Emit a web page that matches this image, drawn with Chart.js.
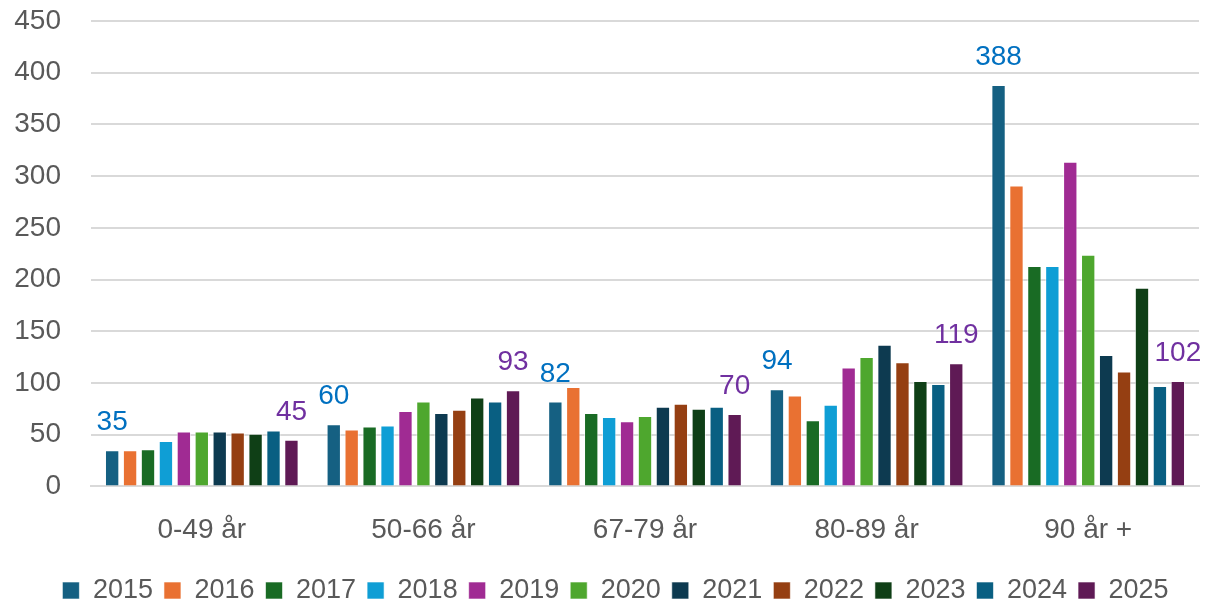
<!DOCTYPE html>
<html>
<head>
<meta charset="utf-8">
<script src="https://cdn.jsdelivr.net/npm/chart.js@4.4.1/dist/chart.umd.min.js"></script>
<style>
  html, body { margin: 0; padding: 0; background: #fff; }
  #wrap { width: 1206px; height: 603px; }
</style>
</head>
<body>
<div id="wrap"><canvas id="ageChart"></canvas></div>
<script>
const categories = ['0-49 år', '50-66 år', '67-79 år', '80-89 år', '90 år +'];
const years = ['2015', '2016', '2017', '2018', '2019', '2020', '2021', '2022', '2023', '2024', '2025'];

// one array per year, values per age group
const v2015 = [35, 60, 82, 94, 388];
const v2016 = [35, 55, 96, 88, 291];
const v2017 = [36, 58, 71, 64, 213];
const v2018 = [44, 59, 67, 79, 213];
const v2019 = [53, 73, 63, 115, 314];
const v2020 = [53, 82, 68, 125, 224];
const v2021 = [53, 71, 77, 137, 127];
const v2022 = [52, 74, 80, 120, 111];
const v2023 = [51, 86, 75, 102, 192];
const v2024 = [54, 82, 77, 99, 97];
const v2025 = [45, 93, 70, 119, 102];

const seriesValues = [v2015, v2016, v2017, v2018, v2019, v2020, v2021, v2022, v2023, v2024, v2025];
const colors = ['#156082', '#E97132', '#196B24', '#0F9ED5', '#A02B93', '#4EA72E',
                '#0D3A50', '#953F12', '#0F3F16', '#095F82', '#5F1A55'];

// value labels on first and last year
const labelPlugin = {
    id: 'endLabels',
    afterLayout(chart) {
        // legend sits a bit right of the canvas centre in the original
        chart.legend.left += 16;
        chart.legend.right += 16;
    },
    afterDatasetsDraw(chart) {
        const ctx = chart.ctx;
        ctx.save();
        ctx.font = '28px "Liberation Sans", Arial, sans-serif';
        ctx.textAlign = 'center';
        ctx.textBaseline = 'alphabetic';
        [[0, '#0070C0'], [10, '#7030A0']].forEach(([di, col]) => {
            const meta = chart.getDatasetMeta(di);
            ctx.fillStyle = col;
            meta.data.forEach((bar, i) => {
                ctx.fillText(String(chart.data.datasets[di].data[i]), bar.x, bar.y - 20);
            });
        });
        ctx.restore();
    }
};

const ctx = document.getElementById('ageChart').getContext('2d');
new Chart(ctx, {
    type: 'bar',
    data: {
        labels: categories,
        datasets: years.map((y, i) => ({
            label: y,
            data: seriesValues[i],
            backgroundColor: colors[i],
            borderColor: 'rgba(255,255,255,0.6)',
            borderWidth: 1,
            barPercentage: 0.8,
            categoryPercentage: 0.89,
        }))
    },
    options: {
        responsive: true,
        maintainAspectRatio: false,
        animation: false,
        layout: { padding: { top: 21, right: 7, left: 0, bottom: -11 } },
        plugins: {
            legend: {
                position: 'bottom',
                labels: {
                    boxWidth: 17,
                    boxHeight: 17,
                    padding: 11,
                    color: '#595959',
                    font: { size: 27, family: '"Liberation Sans", Arial, sans-serif' }
                }
            },
            tooltip: { enabled: false }
        },
        scales: {
            x: {
                grid: { display: false },
                border: { color: '#d9d9d9', width: 2 },
                ticks: {
                    color: '#595959',
                    padding: 19,
                    font: { size: 28, family: '"Liberation Sans", Arial, sans-serif' }
                }
            },
            y: {
                min: 0,
                max: 450,
                afterFit(scale) { scale.width = 91; },
                grid: { color: '#d9d9d9', lineWidth: 2, drawTicks: true, tickLength: 30, tickColor: 'rgba(0,0,0,0)' },
                border: { display: false },
                ticks: {
                    stepSize: 50,
                    color: '#595959',
                    padding: 0,
                    font: { size: 28, family: '"Liberation Sans", Arial, sans-serif' }
                }
            }
        }
    },
    plugins: [labelPlugin]
});
</script>
</body>
</html>
